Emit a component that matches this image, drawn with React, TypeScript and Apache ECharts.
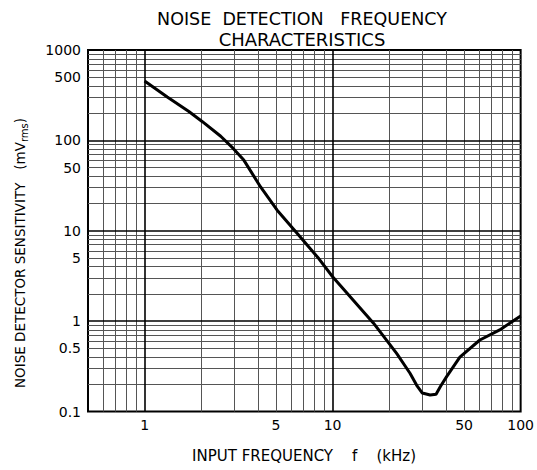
import React, { useEffect, useRef } from "react";
import * as echarts from "echarts";

const freqKHz = [1, 1.32, 1.72, 2.03, 2.54, 2.95, 3.37, 4.13, 5.07, 6.47, 8.42, 10, 16.5, 21.9, 25.8, 28, 30, 33, 35.5, 37.5, 40.4, 47.5, 60.7, 77.4, 100];
const sensitivity = [455, 302, 209, 161, 111, 82, 60.5, 30.7, 16.9, 9.36, 4.95, 3.1, 0.95, 0.44, 0.265, 0.195, 0.16, 0.152, 0.155, 0.19, 0.243, 0.4, 0.618, 0.8, 1.14];

const xTickLabels = [1, 5, 10, 50, 100];
const yTickLabels = [0.1, 0.5, 1, 5, 10, 50, 100, 500, 1000];

const xMajorGrid = [1, 10];
const xMinorGrid = [0.6, 0.7, 0.8, 0.9, 2, 3, 4, 5, 6, 7, 8, 9, 20, 30, 40, 50, 60, 70, 80, 90];
const yMajorGrid = [1, 10, 100];
const yMinorGrid = [0.2, 0.3, 0.4, 0.5, 0.6, 0.7, 0.8, 0.9, 2, 3, 4, 5, 6, 7, 8, 9, 20, 30, 40, 50, 60, 70, 80, 90, 200, 300, 400, 500, 600, 700, 800, 900];

const FONT = "'DejaVu Sans', sans-serif";

const fmt = (v: number) => String(Number(Number(v).toPrecision(3)));

export default function App() {
  const ref = useRef<HTMLDivElement>(null);
  useEffect(() => {
    if (!ref.current) return;
    const chart = echarts.init(ref.current, null, { renderer: "svg" });
    const gridLine = (axis: "xAxis" | "yAxis", vals: number[], color: string, width: number) => ({
      type: "line",
      data: [],
      silent: true,
      markLine: {
        silent: true,
        symbol: ["none", "none"],
        label: { show: false },
        lineStyle: { color, width, type: "solid" },
        emphasis: { disabled: true },
        data: vals.map((v) => ({ [axis]: v })),
      },
    });
    chart.setOption({
      animation: false,
      grid: { left: 88, right: 16, top: 50, bottom: 58.5, show: true, borderColor: "#000", borderWidth: 2, backgroundColor: "transparent" },
      xAxis: {
        type: "log",
        logBase: 10,
        min: 0.5,
        max: 100,
        axisLine: { show: false },
        axisTick: { show: false },
        splitLine: { show: false },
        minorSplitLine: { show: false },
        axisLabel: { customValues: xTickLabels, formatter: fmt, color: "#000", fontFamily: FONT, fontSize: 14, margin: 6 },
      },
      yAxis: {
        type: "log",
        logBase: 10,
        min: 0.1,
        max: 1000,
        axisLine: { show: false },
        axisTick: { show: false },
        splitLine: { show: false },
        minorSplitLine: { show: false },
        axisLabel: { customValues: yTickLabels, formatter: fmt, color: "#000", fontFamily: FONT, fontSize: 14, margin: 7 },
      },
      graphic: [
        {
          type: "text",
          x: 302,
          y: 19,
          style: {
            text: "NOISE  DETECTION   FREQUENCY",
            fill: "#000",
            font: `17.5px ${FONT}`,
            align: "center",
            verticalAlign: "middle",
          },
        },
        {
          type: "text",
          x: 302,
          y: 39,
          style: {
            text: "CHARACTERISTICS",
            fill: "#000",
            font: `18px ${FONT}`,
            align: "center",
            verticalAlign: "middle",
          },
        },
        {
          type: "text",
          x: 304,
          y: 456,
          style: {
            text: "INPUT FREQUENCY    f    (kHz)",
            fill: "#000",
            font: `15px ${FONT}`,
            align: "center",
            verticalAlign: "middle",
          },
        },
        {
          type: "text",
          x: 20,
          y: 253,
          rotation: Math.PI / 2,
          style: {
            text: "{n|NOISE DETECTOR SENSITIVITY   (mV}{s|rms}{n|)}",
            fill: "#000",
            align: "center",
            verticalAlign: "middle",
            rich: {
              n: { fontFamily: FONT, fontSize: 13.5, fill: "#000" },
              s: { fontFamily: FONT, fontSize: 10, fill: "#000", padding: [8, 0, 0, 0] },
            },
          },
        },
      ],
      series: [
        gridLine("xAxis", xMinorGrid, "#555", 1),
        gridLine("yAxis", yMinorGrid, "#555", 1),
        gridLine("xAxis", xMajorGrid, "#000", 1.6),
        gridLine("yAxis", yMajorGrid, "#000", 1.6),
        {
          type: "line",
          data: freqKHz.map((f, i) => [f, sensitivity[i]]),
          showSymbol: false,
          symbol: "none",
          smooth: false,
          lineStyle: { color: "#000", width: 3 },
          z: 10,
        },
      ],
    });
    return () => chart.dispose();
  }, []);
  return <div ref={ref} style={{ width: 537, height: 470, position: "absolute", left: 0, top: 0 }} />;
}
